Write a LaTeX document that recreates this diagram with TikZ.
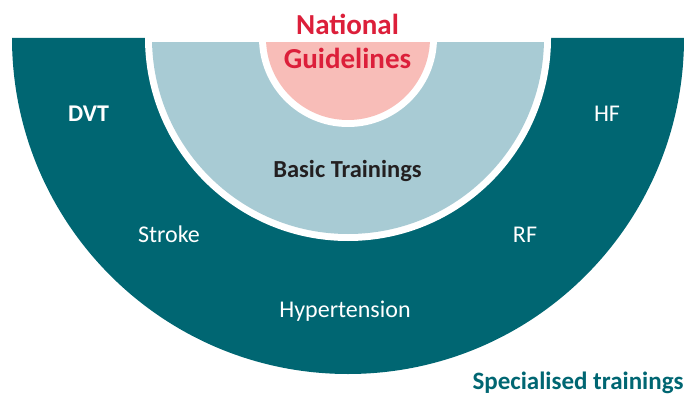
\documentclass[tikz,border=0pt]{standalone}
\usepackage{fontspec}
\setmainfont{Carlito}
\definecolor{tealdark}{HTML}{006672}
\definecolor{lightblue}{HTML}{A8CBD4}
\definecolor{pinkfill}{HTML}{F8BDB8}
\definecolor{redtext}{HTML}{DC1F3A}
\definecolor{darktext}{HTML}{231F20}
\tikzset{
  lbl/.style={anchor=base, inner sep=0pt, outer sep=0pt},
  bigred/.style={lbl, text=redtext, font=\fontsize{29}{34}\selectfont\bfseries},
  ringlbl/.style={lbl, text=white, font=\fontsize{24}{28}\selectfont},
  ringbold/.style={lbl, text=white, font=\fontsize{24}{28}\selectfont\bfseries},
}
\begin{document}
\begin{tikzpicture}[x=1pt,y=1pt]
\useasboundingbox (0,0) rectangle (684,394);
\clip (0,0) rectangle (684,394);
% outer ring
\fill[tealdark] (12,356) arc[start angle=180,end angle=360,radius=336] -- cycle;
% white border of basic trainings
\fill[white] (145,356) arc[start angle=180,end angle=360,radius=203] -- cycle;
\fill[lightblue] (152,356) arc[start angle=180,end angle=360,radius=196] -- cycle;
% white border of national guidelines
\fill[white] (259,356) arc[start angle=180,end angle=360,radius=89] -- cycle;
\fill[pinkfill] (266,356) arc[start angle=180,end angle=360,radius=82] -- cycle;
% white top strip
\fill[white] (145,352) rectangle (551,357);
% labels
\node[bigred] (nat) at (347.5,359) {National};
\node[bigred] (guide) at (347.5,325) {Guidelines};
\node[lbl, text=darktext, font=\fontsize{24.5}{28}\selectfont\bfseries] (basic) at (347.5,217) {Basic Trainings};
\node[ringbold] (dvt) at (88.5,272) {DVT};
\node[ringlbl] (hf) at (607,272) {HF};
\node[ringlbl] (stroke) at (169,152) {Stroke};
\node[ringlbl] (rf) at (525,152) {RF};
\node[ringlbl] (hyper) at (345,77) {Hypertension};
\node[lbl, text=tealdark, font=\fontsize{25}{29}\selectfont\bfseries] (spec) at (578,5) {Specialised trainings};
\end{tikzpicture}
\end{document}
